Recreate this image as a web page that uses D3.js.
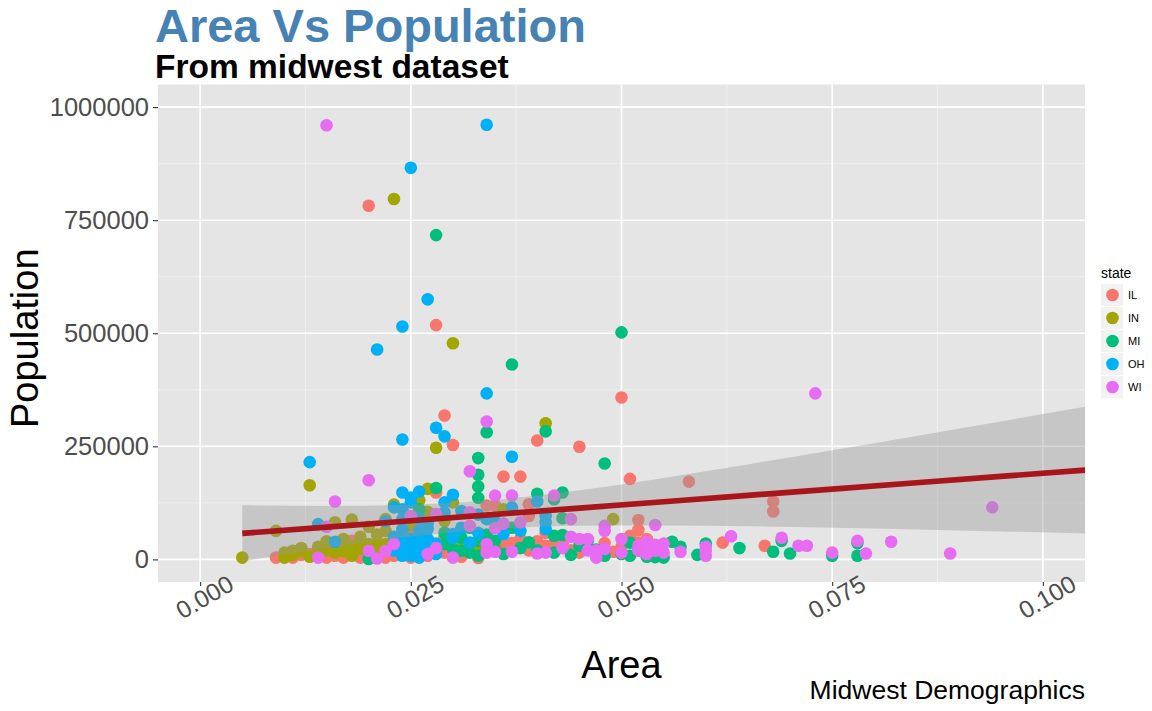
<!DOCTYPE html>
<html>
<head>
<meta charset="utf-8">
<script src="https://cdn.jsdelivr.net/npm/d3@7"></script>
<style>
  body { margin: 0; background: #fff; }
  text { font-family: "Liberation Sans", Arial, Helvetica, sans-serif; }
</style>
</head>
<body>
<svg id="chart" width="1152" height="711"></svg>
<script>
// midwest counties: [area, population in thousands]
var states = ["IL", "IN", "MI", "OH", "WI"];
var colors = ["#F8766D", "#A3A500", "#00BF7D", "#00B0F6", "#E76BF3"];

var ptsIL = [[0.020,782],[0.028,518],[0.050,358],[0.029,318],[0.030,253],[0.040,263],[0.045,249],[0.051,178],
  [0.036,183],[0.038,183],[0.058,172],[0.068,128],[0.068,106],[0.028,148],[0.034,119],[0.035,119],[0.039,122],
  [0.039,96],[0.025,59],[0.041,59],[0.052,87],[0.052,65],[0.052,37],[0.051,52],[0.062,37],[0.067,30],[0.009,4],
  [0.011,4],[0.012,10],[0.014,15],[0.015,4],[0.017,30],[0.017,4],[0.018,41],[0.019,4],[0.022,4],[0.036,34],
  [0.036,19],[0.041,30],[0.042,34],[0.043,34],[0.044,20],[0.049,17],[0.025,4],[0.027,8],[0.029,15],[0.031,6],
  [0.033,3],[0.026,12],[0.013,12],[0.016,8],[0.020,10],[0.023,8],[0.040,40],[0.046,28],[0.047,12],[0.048,36],
  [0.053,45],[0.016,25],[0.019,35],[0.021,30],[0.038,45],[0.045,15],[0.050,28],[0.037,36],[0.039,20],[0.034,48],
  [0.030,18]];

var ptsIN = [[0.023,797],[0.030,478],[0.041,301],[0.028,247],[0.013,164],[0.027,156],[0.026,131],[0.030,126],
  [0.023,121],[0.036,111],[0.009,63],[0.022,89],[0.022,63],[0.005,4],[0.010,15],[0.010,4],[0.011,19],[0.012,25],
  [0.013,6],[0.016,15],[0.016,82],[0.017,45],[0.018,88],[0.018,8],[0.019,37],[0.019,23],[0.020,34],[0.021,35],
  [0.022,34],[0.031,41],[0.049,89],[0.014,28],[0.015,20],[0.017,18],[0.018,30],[0.020,25],[0.021,12],[0.022,20],
  [0.023,30],[0.024,25],[0.025,35],[0.026,28],[0.027,38],[0.028,30],[0.024,60],[0.026,45],[0.029,50],[0.015,40],
  [0.012,18],[0.011,10],[0.019,50],[0.021,55],[0.023,45],[0.025,75],[0.027,105],[0.029,85],[0.020,72],[0.032,35],
  [0.033,22],[0.035,30]];

var ptsMI = [[0.028,717],[0.050,502],[0.037,431],[0.034,281],[0.041,283],[0.048,212],[0.033,224],[0.033,187],
  [0.033,161],[0.028,158],[0.040,145],[0.043,148],[0.033,136],[0.026,111],[0.042,133],[0.043,91],[0.029,59],
  [0.037,70],[0.042,52],[0.043,54],[0.046,41],[0.051,37],[0.051,8],[0.020,1],[0.029,34],[0.030,23],[0.031,19],
  [0.032,15],[0.033,41],[0.033,8],[0.035,41],[0.035,19],[0.042,15],[0.054,5],[0.055,4],[0.056,39],[0.059,10],
  [0.060,35],[0.064,25],[0.068,17],[0.069,41],[0.070,13],[0.075,8],[0.078,36],[0.078,8],[0.027,20],[0.034,55],
  [0.036,12],[0.038,25],[0.039,38],[0.040,20],[0.044,10],[0.045,30],[0.047,22],[0.048,8],[0.050,12],[0.052,20],
  [0.053,6],[0.057,28],[0.031,48],[0.032,70]];

var ptsOH = [[0.034,961],[0.025,866],[0.027,575],[0.024,515],[0.021,464],[0.034,367],[0.028,291],[0.029,272],
  [0.024,265],[0.037,227],[0.013,215],[0.024,148],[0.026,150],[0.025,137],[0.030,143],[0.023,115],[0.024,111],
  [0.025,126],[0.029,126],[0.029,104],[0.031,107],[0.033,99],[0.034,89],[0.035,84],[0.022,84],[0.024,89],
  [0.024,67],[0.026,63],[0.027,67],[0.030,56],[0.031,70],[0.033,59],[0.036,56],[0.014,78],[0.016,39],[0.024,41],
  [0.024,23],[0.024,8],[0.025,45],[0.025,26],[0.025,8],[0.026,41],[0.026,23],[0.026,4],[0.027,45],[0.030,48],
  [0.032,37],[0.037,115],[0.040,128],[0.041,96],[0.041,82],[0.041,67],[0.038,63],[0.023,50],[0.023,20],
  [0.027,30],[0.028,35],[0.028,12],[0.023,35],[0.026,90],[0.027,80]];

var ptsWI = [[0.015,960],[0.073,367],[0.034,305],[0.032,195],[0.020,175],[0.016,128],[0.035,141],[0.037,141],
  [0.042,141],[0.025,96],[0.028,100],[0.032,104],[0.032,74],[0.035,69],[0.036,79],[0.038,82],[0.044,89],
  [0.048,74],[0.048,63],[0.054,76],[0.094,115],[0.015,72],[0.014,4],[0.020,19],[0.021,2],[0.022,19],[0.023,34],
  [0.027,12],[0.028,25],[0.030,4],[0.034,34],[0.034,15],[0.035,17],[0.037,17],[0.040,13],[0.041,15],[0.043,25],
  [0.044,50],[0.045,45],[0.046,45],[0.046,20],[0.047,20],[0.047,4],[0.048,23],[0.050,45],[0.050,15],[0.052,30],
  [0.052,20],[0.053,39],[0.053,23],[0.053,12],[0.054,32],[0.054,19],[0.055,35],[0.055,15],[0.057,17],[0.060,28],
  [0.060,19],[0.060,8],[0.063,51],[0.069,48],[0.071,30],[0.072,30],[0.075,15],[0.078,41],[0.079,13],[0.082,39],
  [0.089,13]];

// lm fit with its confidence band (thousands)
var smoothArea = [0.005, 0.015, 0.025, 0.035, 0.045, 0.055, 0.065, 0.075, 0.085, 0.095, 0.105, 0.110];
var smoothFit  = [57.5, 71.5, 85.5, 99.5, 113.5, 127.5, 141.5, 155.5, 169.5, 183.5, 197.5, 204.5];
var smoothLo   = [-4.5, 24.7, 50.0, 67.2, 74.2, 74.9, 73.0, 69.8, 66.0, 61.9, 57.5, 55.3];
var smoothHi   = [119.5, 118.3, 121.0, 131.8, 152.8, 180.1, 210.0, 241.2, 273.0, 305.1, 337.5, 353.7];

var xTicks = [0, 0.025, 0.05, 0.075, 0.1];
var xMinor = [0.0125, 0.0375, 0.0625, 0.0875];
var yTicks = [0, 250000, 500000, 750000, 1000000];
var yMinor = [125000, 375000, 625000, 875000];

var svg = d3.select("#chart");
var panel = {left: 158, right: 1085, top: 84.5, bottom: 582};

var x = d3.scaleLinear().domain([-0.005, 0.105]).range([panel.left, panel.right]);
var y = d3.scaleLinear().domain([-50000, 1050000]).range([panel.bottom, panel.top]);

svg.append("rect").attr("width", 1152).attr("height", 711).attr("fill", "#fff");

svg.append("defs").append("clipPath").attr("id", "clip")
  .append("rect")
  .attr("x", panel.left).attr("y", panel.top)
  .attr("width", panel.right - panel.left).attr("height", panel.bottom - panel.top);

svg.append("rect")
  .attr("x", panel.left).attr("y", panel.top)
  .attr("width", panel.right - panel.left).attr("height", panel.bottom - panel.top)
  .attr("fill", "#E5E5E5");

var grid = svg.append("g");
grid.selectAll(".xmin").data(xMinor).enter().append("line")
  .attr("x1", x).attr("x2", x).attr("y1", panel.top).attr("y2", panel.bottom)
  .attr("stroke", "#F2F2F2").attr("stroke-width", 0.8);
grid.selectAll(".ymin").data(yMinor).enter().append("line")
  .attr("y1", y).attr("y2", y).attr("x1", panel.left).attr("x2", panel.right)
  .attr("stroke", "#F2F2F2").attr("stroke-width", 0.8);
grid.selectAll(".xmaj").data(xTicks).enter().append("line")
  .attr("x1", x).attr("x2", x).attr("y1", panel.top).attr("y2", panel.bottom)
  .attr("stroke", "#fff").attr("stroke-width", 1.6);
grid.selectAll(".ymaj").data(yTicks).enter().append("line")
  .attr("y1", y).attr("y2", y).attr("x1", panel.left).attr("x2", panel.right)
  .attr("stroke", "#fff").attr("stroke-width", 1.6);

var plot = svg.append("g").attr("clip-path", "url(#clip)");

var allPts = [ptsIL, ptsIN, ptsMI, ptsOH, ptsWI];
allPts.forEach(function(pts, i) {
  plot.append("g").selectAll("circle")
    .data(pts)
    .enter()
    .append("circle")
    .attr("cx", function(d) { return x(d[0]); })
    .attr("cy", function(d) { return y(d[1] * 1000); })
    .attr("r", 6.3)
    .attr("fill", colors[i]);
});

var smooth = smoothArea.map(function(a, i) {
  return {a: a, fit: smoothFit[i] * 1000, lo: smoothLo[i] * 1000, hi: smoothHi[i] * 1000};
});

plot.append("path")
  .datum(smooth)
  .attr("d", d3.area()
    .x(function(d) { return x(d.a); })
    .y0(function(d) { return y(d.lo); })
    .y1(function(d) { return y(d.hi); })
    .curve(d3.curveMonotoneX))
  .attr("fill", "#999999")
  .attr("fill-opacity", 0.4);

plot.append("path")
  .datum(smooth)
  .attr("d", d3.line()
    .x(function(d) { return x(d.a); })
    .y(function(d) { return y(d.fit); }))
  .attr("fill", "none")
  .attr("stroke", "#A8161C")
  .attr("stroke-width", 5.7);

// axes
var yAxis = svg.append("g")
  .attr("transform", "translate(" + panel.left + ",0)")
  .call(d3.axisLeft(y).tickValues(yTicks).tickFormat(d3.format("d")).tickSizeInner(5).tickSizeOuter(0).tickPadding(4));
yAxis.select(".domain").remove();
yAxis.selectAll("line").attr("stroke", "#333").attr("stroke-width", 1.1);
yAxis.selectAll("text").attr("fill", "#4D4D4D").style("font-size", "25.5px")
  .style("font-family", "'Liberation Sans', Arial, sans-serif");

var xAxis = svg.append("g")
  .attr("transform", "translate(0," + panel.bottom + ")")
  .call(d3.axisBottom(x).tickValues(xTicks).tickFormat(d3.format(".3f")).tickSizeInner(4).tickSizeOuter(0));
xAxis.select(".domain").remove();
xAxis.selectAll("line").attr("stroke", "#333").attr("stroke-width", 1.1);
xAxis.selectAll("text")
  .attr("fill", "#4D4D4D")
  .attr("y", 0).attr("dy", 0)
  .attr("text-anchor", "middle")
  .attr("dominant-baseline", "central")
  .attr("transform", "translate(4,15) rotate(-30)")
  .style("font-size", "24.5px")
  .style("font-family", "'Liberation Sans', Arial, sans-serif");

// titles
svg.append("text").attr("x", 155).attr("y", 42)
  .text("Area Vs Population")
  .attr("fill", "#4682B4").style("font-size", "47px").style("font-weight", "bold");
svg.append("text").attr("x", 155).attr("y", 78)
  .text("From midwest dataset")
  .attr("fill", "#000").style("font-size", "33.5px").style("font-weight", "bold");
svg.append("text")
  .attr("transform", "translate(38," + ((panel.top + panel.bottom) / 2 + 5) + ") rotate(-90)")
  .attr("text-anchor", "middle")
  .text("Population").style("font-size", "38px");
svg.append("text").attr("x", (panel.left + panel.right) / 2).attr("y", 678)
  .attr("text-anchor", "middle")
  .text("Area").style("font-size", "38px");
svg.append("text").attr("x", panel.right).attr("y", 699)
  .attr("text-anchor", "end")
  .text("Midwest Demographics").style("font-size", "26.5px");

// legend
var legend = svg.append("g").attr("transform", "translate(1101,0)");
legend.append("text").attr("x", 0).attr("y", 278).text("state").style("font-size", "14px");
var keys = legend.selectAll(".key").data(states).enter().append("g")
  .attr("transform", function(d, i) { return "translate(0," + (284 + i * 23) + ")"; });
keys.append("rect").attr("width", 22).attr("height", 22).attr("fill", "#F2F2F2");
keys.append("circle").attr("cx", 11.5).attr("cy", 11).attr("r", 6.3)
  .attr("fill", function(d, i) { return colors[i]; });
keys.append("text").attr("x", 27).attr("y", 15).text(function(d) { return d; })
  .style("font-size", "11px");
</script>
</body>
</html>
